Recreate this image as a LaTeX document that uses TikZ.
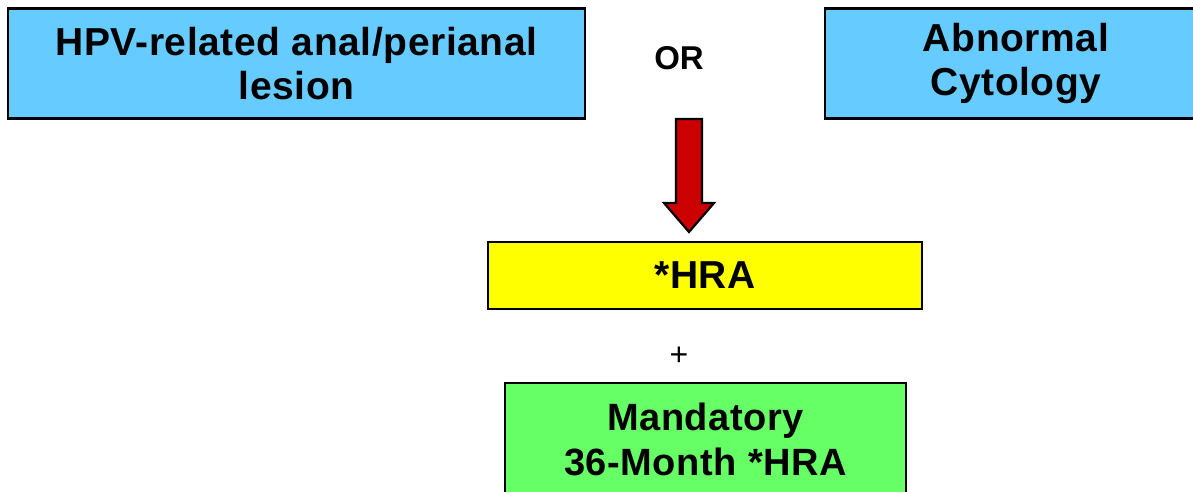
\documentclass[tikz,border=0pt]{standalone}
\usepackage{fontspec}
\setmainfont{Liberation Sans}
\definecolor{boxblue}{HTML}{66CCFF}
\definecolor{boxyellow}{HTML}{FFFF00}
\definecolor{boxgreen}{HTML}{66FF66}
\definecolor{arrowred}{HTML}{CC0000}
\begin{document}
\begin{tikzpicture}[x=1pt,y=-1pt,
  flowbox/.style={draw=black, line width=2.6pt, align=center, inner sep=0pt,
    font=\bfseries\fontsize{39}{44}\selectfont\addfontfeature{LetterSpace=1.5}},
  plainlabel/.style={font=\bfseries\fontsize{33}{38}\selectfont, inner sep=0pt}]
\useasboundingbox (0,0) rectangle (1193,492);
\clip (0,0) rectangle (1193,492);
\node[flowbox, fill=boxblue, minimum width=577pt, minimum height=110pt] (lesion) at (296.5,63.5) {HPV-related anal/perianal\\lesion};
\node[flowbox, fill=boxblue, minimum width=382pt, minimum height=110pt] (cyto) at (1016,63.5) {Abnormal\\Cytology};
\node[plainlabel] (or) at (679,58) {OR};
\node[flowbox, fill=boxyellow, minimum width=434pt, minimum height=67pt] (hra) at (705,275.5) {*HRA};
\node[plainlabel, font=\fontsize{32}{36}\selectfont] (plus) at (679,356) {+};
\node[flowbox, fill=boxgreen, minimum width=401pt, minimum height=113pt, font=\bfseries\fontsize{38}{45}\selectfont\addfontfeature{LetterSpace=1.5}] (mand) at (705.5,439.5) {Mandatory\\36-Month *HRA};
\draw[fill=arrowred, draw=black, line width=2.2pt, line join=miter]
  (676,119) -- (702,119) -- (702,203) -- (714,203) -- (689,232) -- (664,203) -- (676,203) -- cycle;
\end{tikzpicture}
\end{document}
